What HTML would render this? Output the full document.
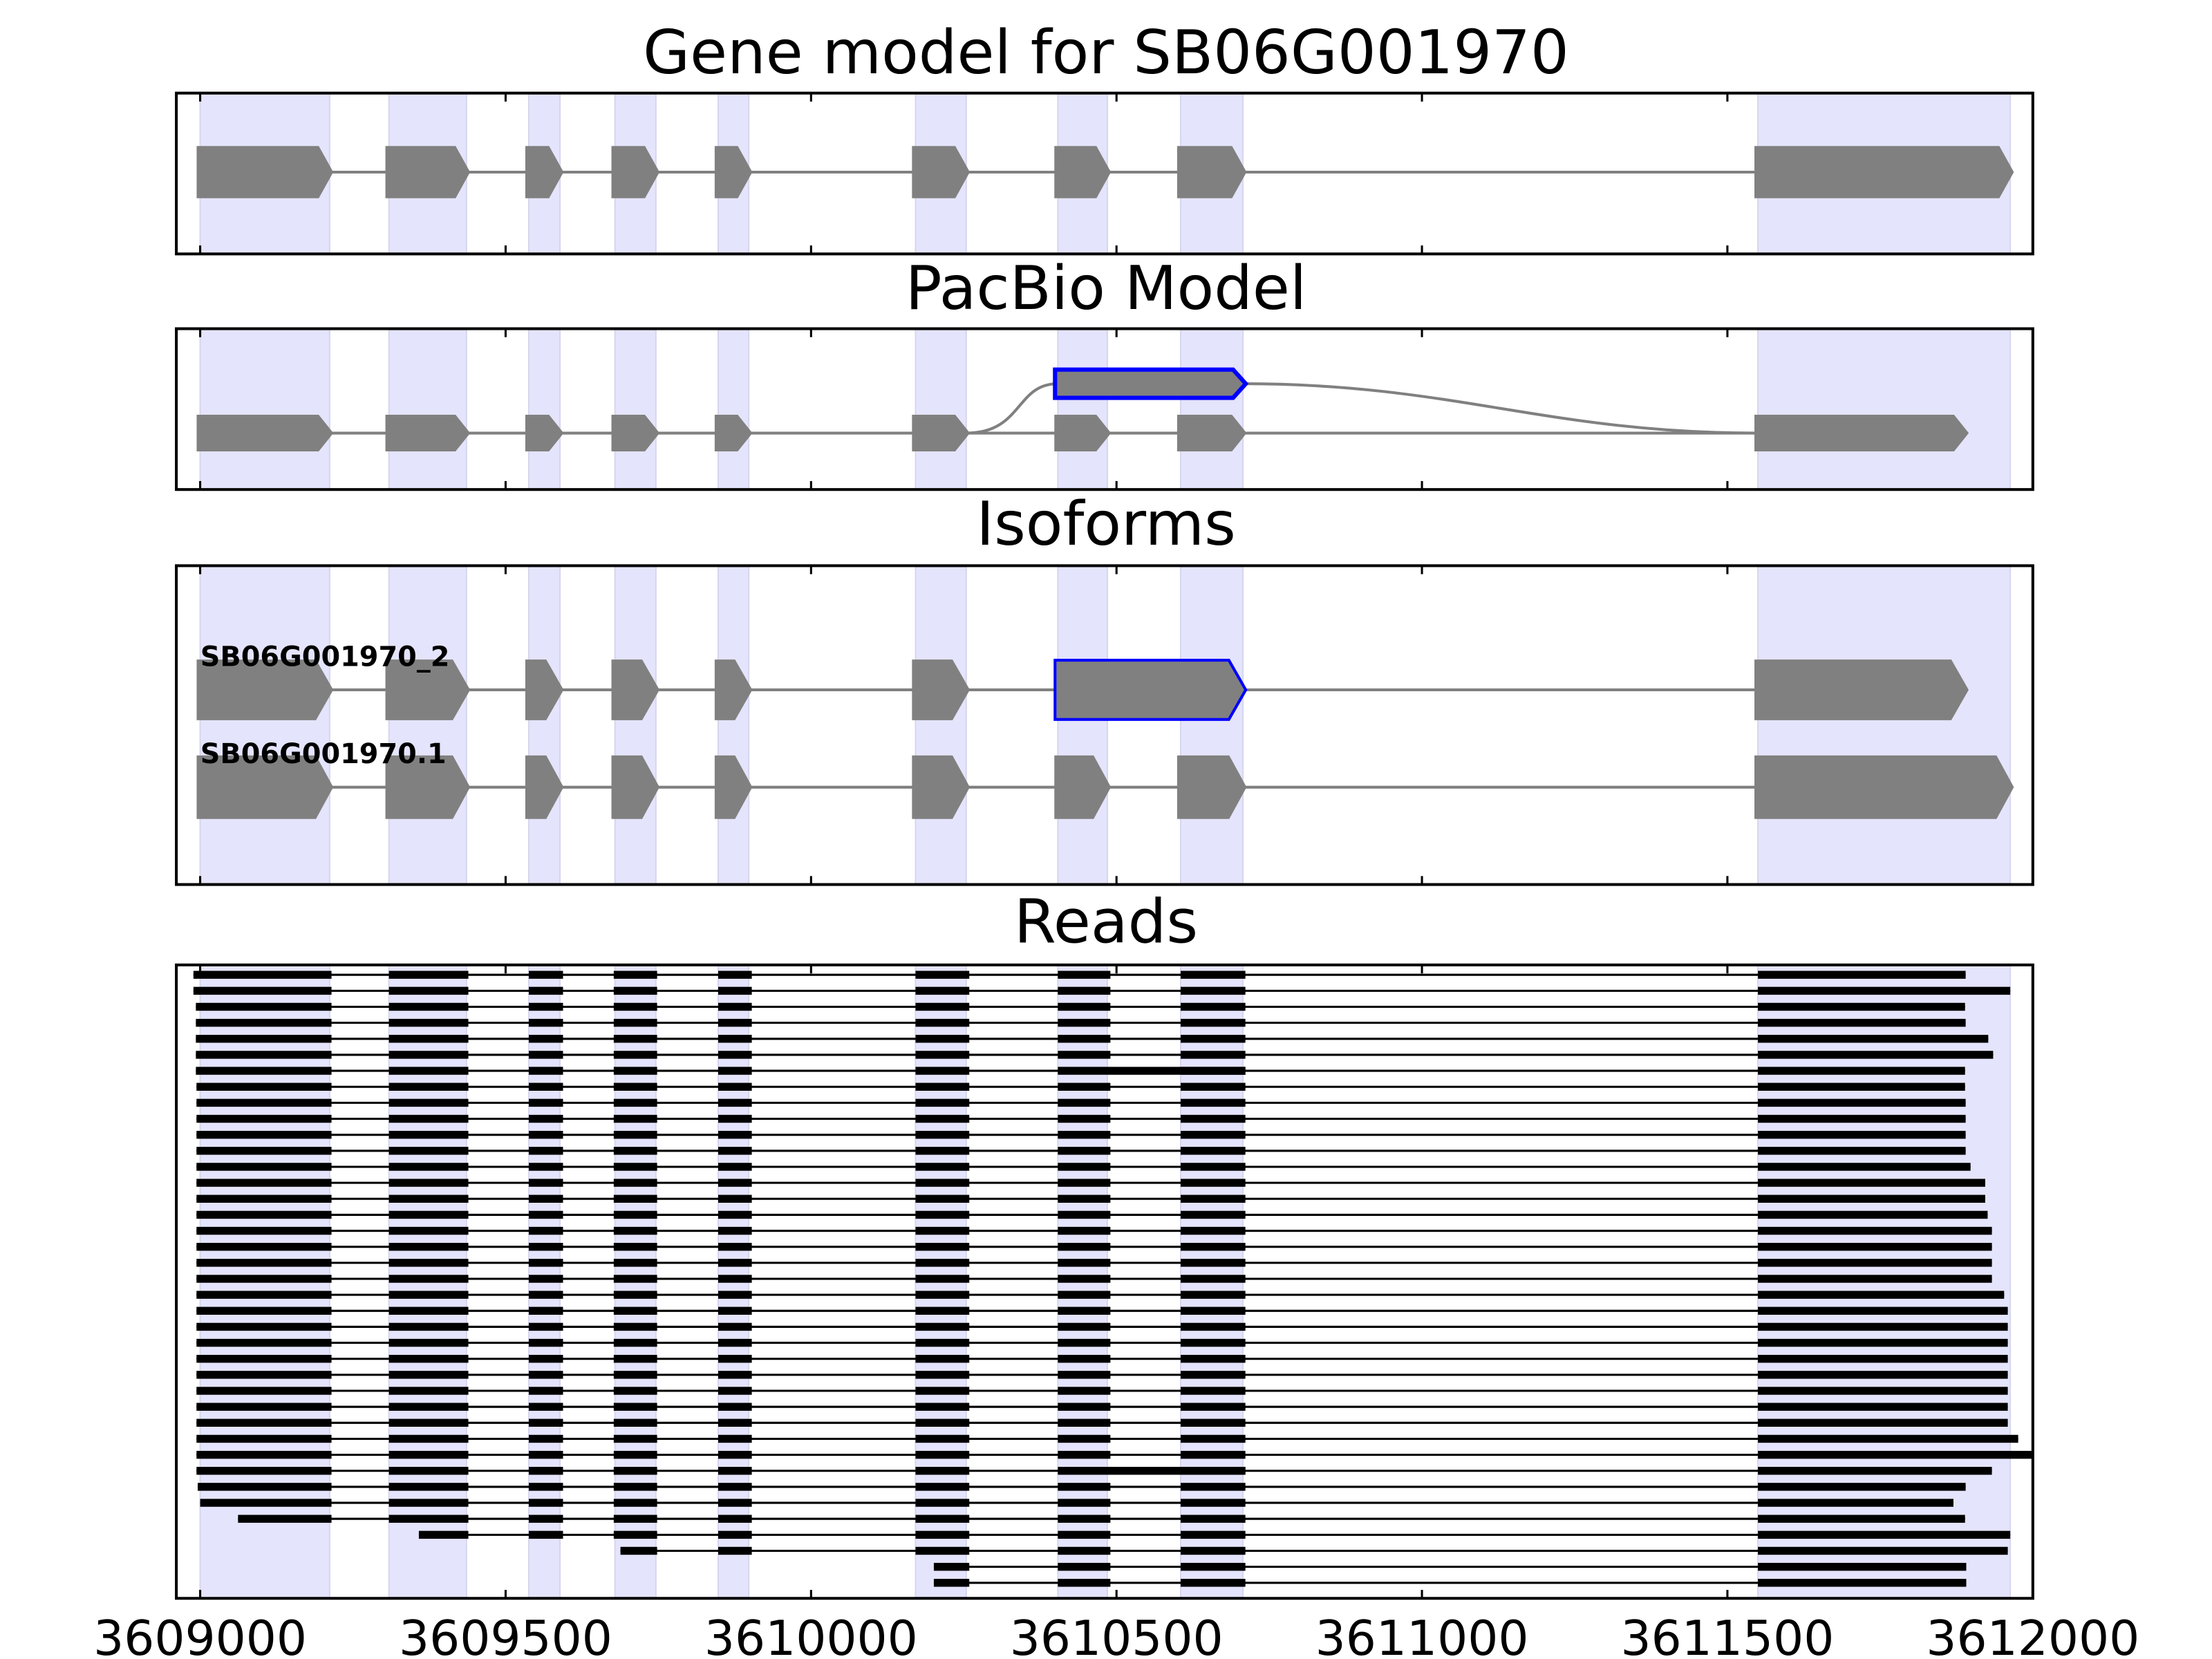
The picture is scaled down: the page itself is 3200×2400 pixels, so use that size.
<!DOCTYPE html>
<html><head><meta charset="utf-8"><style>
html,body{margin:0;padding:0;background:#fff}
svg{display:block}
text{font-family:"DejaVu Sans","Liberation Sans",sans-serif}
</style></head><body>
<svg id="fig" width="3200" height="2400" viewBox="0 0 1568 1176" xmlns="http://www.w3.org/2000/svg">
<g id="shades"></g><g id="marks"></g><g id="frames"></g>
</svg>
<script>
const exonStarts=[3609000,3609309,3609538,3609679,3609848,3610171,3610404,3610605,3611550];
const exonEnds=[3609212,3609436,3609589,3609746,3609898,3610254,3610485,3610707,3611963];
const isoShortEnd=3611889;
const readExonStarts=[3608900,3609309,3609538,3609677,3609848,3610171,3610404,3610605,3611550];
const readExonEnds=[3609215,3609439,3609594,3609748,3609903,3610259,3610490,3610711,3612200];
const readStarts=[3608989,3608989,3608993,3608993,3608993,3608993,3608993,3608994,3608994,3608994,3608994,3608994,3608994,3608994,3608994,3608994,3608994,3608994,3608994,3608994,3608994,3608994,3608994,3608994,3608994,3608994,3608994,3608994,3608994,3608994,3608994,3608994,3608996,3609000,3609062,3609358,3609688,3610201,3610201];
const readEnds=[3611890,3611963,3611889,3611890,3611927,3611935,3611889,3611889,3611890,3611890,3611890,3611890,3611898,3611922,3611922,3611926,3611933,3611933,3611933,3611933,3611953,3611959,3611959,3611959,3611959,3611959,3611959,3611959,3611959,3611976,3612100,3611933,3611890,3611870,3611889,3611963,3611959,3611891,3611891];
const retainedRows=[6,31];
const xTicks=[3609000,3609500,3610000,3610500,3611000,3611500,3612000];

const NS='http://www.w3.org/2000/svg';
const X0=125,X1=1441,D0=3608961,D1=3612000;
function xs(v){return X0+(v-D0)/(D1-D0)*(X1-X0);}
function mk(tag,attrs,parent){const e=document.createElementNS(NS,tag);for(const k in attrs)e.setAttribute(k,attrs[k]);parent.appendChild(e);return e;}
const shades=document.getElementById('shades'),marks=document.getElementById('marks'),frames=document.getElementById('frames');
const panels=[{t:'Gene model for SB06G001970',y0:66,y1:180,ty:52,n:'gene-model-panel'},
{t:'PacBio Model',y0:233,y1:347,ty:219,n:'pacbio-panel'},
{t:'Isoforms',y0:401,y1:627,ty:386,n:'isoforms-panel'},
{t:'Reads',y0:684,y1:1133,ty:668,n:'reads-panel'}];
panels.forEach(p=>{
  for(let i=0;i<exonStarts.length;i++){
    const r=mk('rect',{x:xs(exonStarts[i]),y:p.y0,width:xs(exonEnds[i])-xs(exonStarts[i]),height:p.y1-p.y0,fill:'#e4e4fc',stroke:'#d6d6ee','stroke-width':1},shades);
    
    
  }
  const f=mk('rect',{x:X0,y:p.y0,width:X1-X0,height:p.y1-p.y0,fill:'none',stroke:'#000','stroke-width':2},frames);
  
  
  const t=mk('text',{x:784,y:p.ty,'text-anchor':'middle','font-size':43},frames);t.textContent=p.t;
  
  
  xTicks.forEach(v=>{
    mk('line',{x1:xs(v),x2:xs(v),y1:p.y0,y2:p.y0+6,stroke:'#000','stroke-width':1.5},frames);
    mk('line',{x1:xs(v),x2:xs(v),y1:p.y1,y2:p.y1-6,stroke:'#000','stroke-width':1.5},frames);
  });
});
xTicks.forEach(v=>{
  const t=mk('text',{x:xs(v),y:1173,'text-anchor':'middle','font-size':34},frames);t.textContent=v;
  
  
});
function arrow(s,e,cy,h,fill,stroke,sw,tip){
  const a=xs(s)-2,b=xs(e)+2,t=Math.min(tip,(b-a)*0.5);
  const pts=[[a,cy-h/2],[b-t,cy-h/2],[b,cy],[b-t,cy+h/2],[a,cy+h/2]].map(p=>p.join(',')).join(' ');
  const el=mk('polygon',{points:pts,fill:fill,stroke:stroke,'stroke-width':sw},marks);
  
  
  return el;
}
function line(x1,x2,y,c,w){const l=mk('line',{x1:x1,x2:x2,y1:y,y2:y,stroke:c,'stroke-width':w},marks);
  
  return l;}
function model(cy,h,tip,lastEnd,skip){
  const ends=exonEnds.slice();ends[ends.length-1]=lastEnd;
  line(xs(exonStarts[0]),xs(ends[ends.length-1]),cy,'#808080',2);
  for(let i=0;i<exonStarts.length;i++){
    if(skip.includes(i))continue;
    arrow(exonStarts[i],ends[i],cy,h,'#808080','#808080',1,tip);
  }
}
model(122,36,10,exonEnds[8],[]);
model(307,25,10,isoShortEnd,[]);
const cv=mk('path',{d:`M ${xs(exonEnds[5])} 307 C ${xs(exonEnds[5])+40} 307, ${xs(exonStarts[6])-30} 272, ${xs(exonStarts[6])} 272 L ${xs(exonEnds[7])} 272 C ${xs(exonEnds[7])+150} 272, ${xs(exonStarts[8])-150} 307, ${xs(exonStarts[8])} 307`,fill:'none',stroke:'#808080','stroke-width':2},marks);


arrow(exonStarts[6],exonEnds[7],272,20,'#808080','#0000ff',3,9);
model(489,42,12,isoShortEnd,[6,7]);
arrow(exonStarts[6],exonEnds[7],489,42,'#808080','#0000ff',2,12);
model(558,44,12,exonEnds[8],[]);
[['SB06G001970_2',472],['SB06G001970.1',541]].forEach(l=>{
  const t=mk('text',{x:142,y:l[1],'font-size':19.5,'font-weight':'bold'},marks);t.textContent=l[0];
  
  
});
const rowY0=691,rowDy=(1122-691)/38;
readStarts.forEach((s,i)=>{
  const e=readEnds[i],y=rowY0+i*rowDy;
  const l=mk('line',{x1:xs(s),x2:Math.min(xs(e),X1),y1:y,y2:y,stroke:'#000','stroke-width':1.5},marks);
  
  
  for(let k=0;k<readExonStarts.length;k++){
    let a=Math.max(s,readExonStarts[k]),b=Math.min(e,readExonEnds[k]);
    if(retainedRows.includes(i)&&k===6)b=Math.min(e,readExonEnds[7]);
    if(b<=a)continue;
    const r=mk('rect',{x:xs(a),y:y-2.8,width:Math.min(xs(b),X1)-xs(a),height:5.6,fill:'#000'},marks);
    
    
  }
});
</script>
</body></html>
